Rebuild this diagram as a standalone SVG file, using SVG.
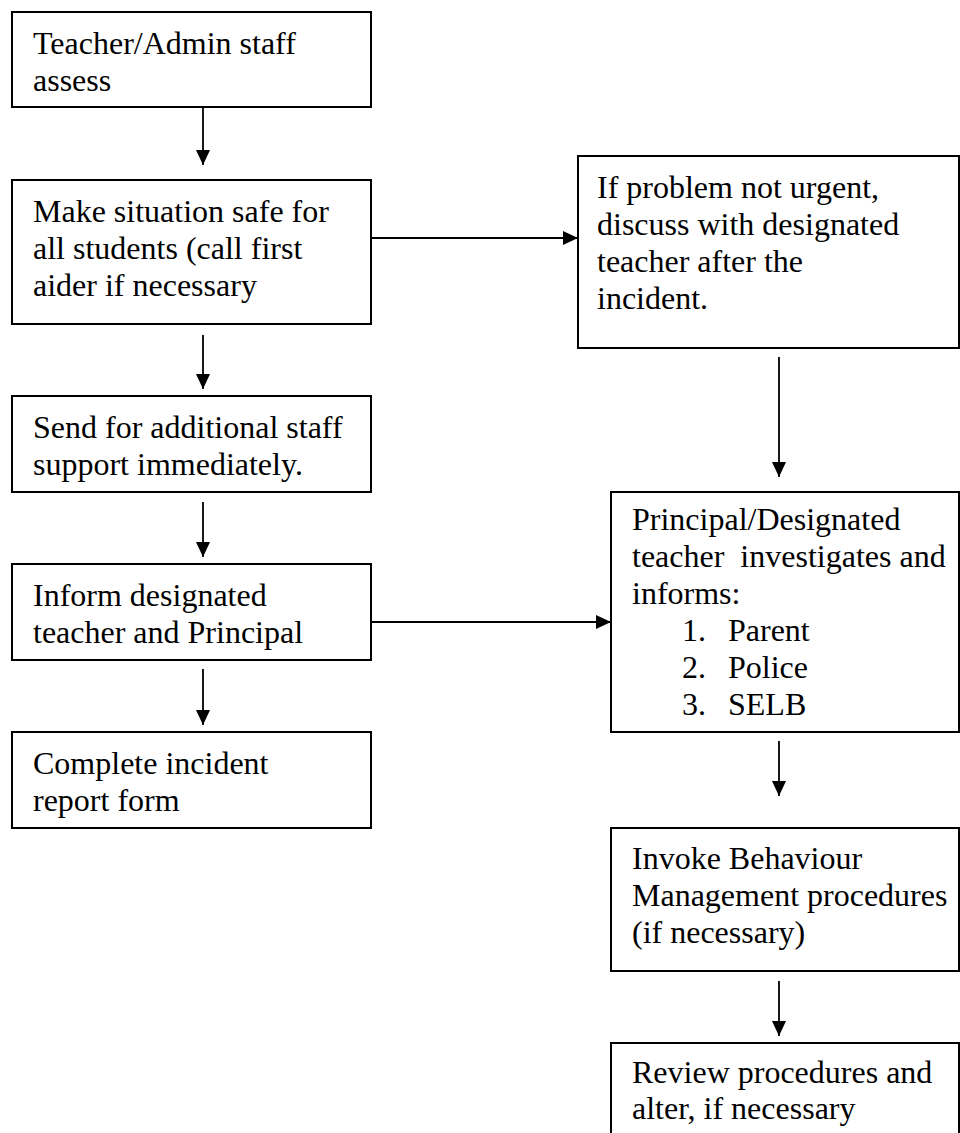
<svg xmlns="http://www.w3.org/2000/svg" width="960" height="1133" viewBox="0 0 960 1133">
<style>
  .box { fill: #ffffff; stroke: #000000; stroke-width: 2; }
  .t { font-family: "Liberation Serif", "Times New Roman", serif; font-size: 32px; fill: #000000; white-space: pre; }
  .conn { stroke: #000000; stroke-width: 1.8; fill: none; marker-end: url(#arrow); }
</style>
<defs>
  <marker id="arrow" markerUnits="userSpaceOnUse" markerWidth="16" markerHeight="16" viewBox="0 0 16 16" refX="15" refY="8" orient="auto">
    <path d="M0,1 L15,8 L0,15 Z" fill="#000000"/>
  </marker>
</defs>
<rect width="960" height="1133" fill="#ffffff"/>

<g id="connectors">
  <line class="conn" x1="203" y1="107" x2="203" y2="165"/>
  <line class="conn" x1="203" y1="335" x2="203" y2="389"/>
  <line class="conn" x1="203" y1="502" x2="203" y2="557"/>
  <line class="conn" x1="203" y1="669" x2="203" y2="725"/>
  <line class="conn" x1="371" y1="238" x2="578" y2="238"/>
  <line class="conn" x1="371" y1="622" x2="611" y2="622"/>
  <line class="conn" x1="779" y1="357" x2="779" y2="477"/>
  <line class="conn" x1="779" y1="741" x2="779" y2="796"/>
  <line class="conn" x1="779" y1="981" x2="779" y2="1036"/>
</g>

<g id="n1">
  <rect class="box" x="12" y="12" width="359" height="95"/>
  <text class="t" x="33" y="54">Teacher/Admin staff</text>
  <text class="t" x="33" y="91">assess</text>
</g>
<g id="n2">
  <rect class="box" x="12" y="180" width="359" height="144"/>
  <text class="t" x="33" y="222">Make situation safe for</text>
  <text class="t" x="33" y="259">all students (call first</text>
  <text class="t" x="33" y="296">aider if necessary</text>
</g>
<g id="n3">
  <rect class="box" x="12" y="396" width="359" height="96"/>
  <text class="t" x="33" y="438">Send for additional staff</text>
  <text class="t" x="33" y="475">support immediately.</text>
</g>
<g id="n4">
  <rect class="box" x="12" y="564" width="359" height="96"/>
  <text class="t" x="33" y="606">Inform designated</text>
  <text class="t" x="33" y="643">teacher and Principal</text>
</g>
<g id="n5">
  <rect class="box" x="12" y="732" width="359" height="96"/>
  <text class="t" x="33" y="774">Complete incident</text>
  <text class="t" x="33" y="811">report form</text>
</g>
<g id="r1">
  <rect class="box" x="578" y="156" width="381" height="192"/>
  <text class="t" x="597" y="198">If problem not urgent,</text>
  <text class="t" x="597" y="235">discuss with designated</text>
  <text class="t" x="597" y="272">teacher after the</text>
  <text class="t" x="597" y="309">incident.</text>
</g>
<g id="r2">
  <rect class="box" x="611" y="492" width="348" height="240"/>
  <text class="t" x="632" y="530">Principal/Designated</text>
  <text class="t" x="632" y="567">teacher  investigates and</text>
  <text class="t" x="632" y="604">informs:</text>
  <text class="t" x="682" y="641">1.</text>
  <text class="t" x="728" y="641">Parent</text>
  <text class="t" x="682" y="678">2.</text>
  <text class="t" x="728" y="678">Police</text>
  <text class="t" x="682" y="715">3.</text>
  <text class="t" x="728" y="715">SELB</text>
</g>
<g id="r3">
  <rect class="box" x="611" y="828" width="348" height="143"/>
  <text class="t" x="632" y="869">Invoke Behaviour</text>
  <text class="t" x="632" y="906">Management procedures</text>
  <text class="t" x="632" y="943">(if necessary)</text>
</g>
<g id="r4">
  <rect class="box" x="611" y="1043" width="348" height="120"/>
  <text class="t" x="632" y="1083">Review procedures and</text>
  <text class="t" x="632" y="1119">alter, if necessary</text>
</g>
</svg>
